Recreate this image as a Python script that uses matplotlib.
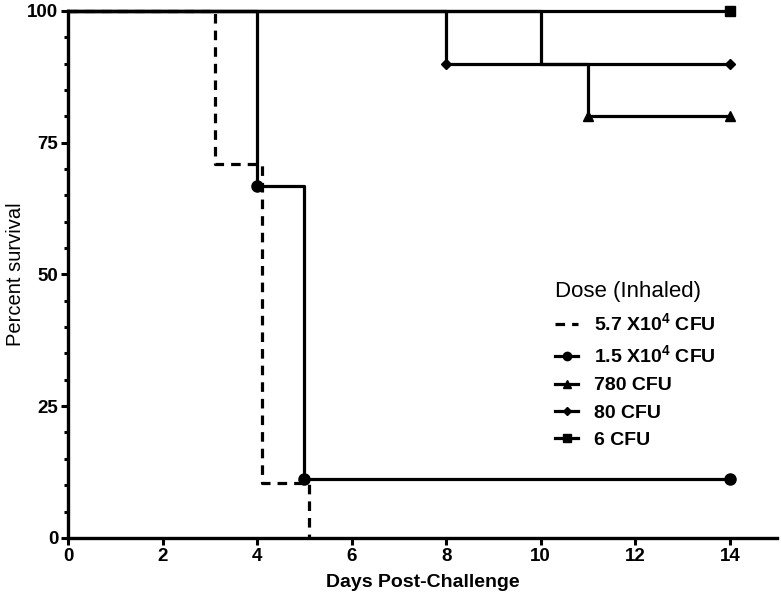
import matplotlib
matplotlib.use('Agg')
import matplotlib.pyplot as plt
from matplotlib.ticker import MultipleLocator

plt.rcParams['font.family'] = ['Liberation Sans', 'DejaVu Sans']
plt.rcParams['mathtext.fontset'] = 'custom'
plt.rcParams['mathtext.rm'] = 'Liberation Sans:bold'
plt.rcParams['mathtext.bf'] = 'Liberation Sans:bold'

# Kaplan-Meier steps (days, percent survival)
labels = [r'5.7 X10$^{\mathbf{4}}$ CFU', r'1.5 X10$^{\mathbf{4}}$ CFU',
          '780 CFU', '80 CFU', '6 CFU']
days_57e4 = [0, 3.1, 4.1, 5.1]
surv_57e4 = [100, 71, 10.5, 0]
days_15e4 = [0, 4, 5, 14]
surv_15e4 = [100, 66.7, 11.1, 11.1]
days_780 = [0, 10, 11, 14]
surv_780 = [100, 90, 80, 80]
days_80 = [0, 8, 14]
surv_80 = [100, 90, 90]
days_6 = [0, 14]
surv_6 = [100, 100]

fig = plt.figure(figsize=(7.81, 6.01), dpi=100)
ax = fig.add_axes([0.087, 0.105, 0.908, 0.877])

lw = 2.3
ax.step(days_6, surv_6, where='post', color='black', lw=lw, marker='s',
        ms=7, markevery=[1], clip_on=False, label=labels[4], zorder=3)
ax.step(days_80, surv_80, where='post', color='black', lw=lw, marker='D',
        ms=5, markevery=[1, 2], clip_on=False, label=labels[3], zorder=3)
ax.step(days_780, surv_780, where='post', color='black', lw=lw, marker='^',
        ms=7, markevery=[2, 3], clip_on=False, label=labels[2], zorder=3)
ax.step(days_15e4, surv_15e4, where='post', color='black', lw=lw, marker='o',
        ms=8, markevery=[1, 2, 3], clip_on=False, label=labels[1], zorder=3)
ax.step(days_57e4, surv_57e4, where='post', color='black', lw=lw,
        linestyle=(0, (3, 2.2)), clip_on=False, label=labels[0], zorder=3)

ax.set_xlim(0, 15)
ax.set_ylim(0, 100)
ax.set_xticks(range(0, 15, 2))
ax.set_yticks([0, 25, 50, 75, 100])
ax.yaxis.set_minor_locator(MultipleLocator(5))

for s in ['top', 'right']:
    ax.spines[s].set_visible(False)
for s in ['left', 'bottom']:
    ax.spines[s].set_linewidth(2.4)
ax.tick_params(which='major', length=5, width=2.2, labelsize=13.5, pad=2)
ax.tick_params(which='minor', length=3, width=2.2)
for t in ax.get_xticklabels() + ax.get_yticklabels():
    t.set_fontweight('bold')

ax.set_xlabel('Days Post-Challenge', fontsize=14, fontweight='bold', labelpad=7)
ax.set_ylabel('Percent survival', fontsize=14.5)
ax.yaxis.set_label_coords(-0.06, 0.5)

handles, labs = ax.get_legend_handles_labels()
order = [4, 3, 2, 1, 0]
leg = fig.legend([handles[i] for i in order], [labs[i] for i in order],
                 title='Dose (Inhaled)', loc='upper left',
                 bbox_to_anchor=(0.698, 0.548), frameon=False,
                 handlelength=1.2, handletextpad=0.8, labelspacing=0.5,
                 borderpad=0, prop={'size': 14, 'weight': 'bold'},
                 title_fontsize=16, alignment='left', markerscale=0.75)

fig.savefig('out.png', dpi=100)
